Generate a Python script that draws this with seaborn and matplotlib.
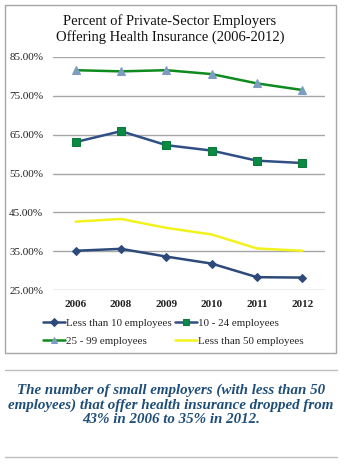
import matplotlib
matplotlib.use("Agg")
import matplotlib.pyplot as plt
import seaborn as sns
import pandas as pd
from matplotlib.lines import Line2D
from matplotlib.patches import Rectangle

years = ["2006", "2008", "2009", "2010", "2011", "2012"]
lt10 = [35.1, 35.6, 33.6, 31.8, 28.3, 28.2]
s10_24 = [63.1, 65.9, 62.3, 60.9, 58.3, 57.7]
s25_99 = [81.6, 81.3, 81.6, 80.6, 78.2, 76.5]
lt50 = [42.6, 43.3, 41.0, 39.3, 35.7, 35.1]
series_names = ["Less than 10 employees", "10 - 24 employees",
                "25 - 99 employees", "Less than 50 employees"]
yticks = [25, 35, 45, 55, 65, 75, 85]

title = "Percent of Private-Sector Employers\nOffering Health Insurance (2006-2012)"
caption = ("The number of small employers (with less than 50\n"
           "employees) that offer health insurance dropped from\n"
           "43% in 2006 to 35% in 2012.")

rows = []
for name, vals in zip(series_names, [lt10, s10_24, s25_99, lt50]):
    for i, (y, v) in enumerate(zip(years, vals)):
        rows.append({"pos": i, "year": y, "value": v, "series": name})
df = pd.DataFrame(rows)

sns.set_theme(style="white")
plt.rcParams["font.family"] = ["Liberation Serif", "DejaVu Serif"]

W, H = 350, 471
fig = plt.figure(figsize=(3.5, 4.71), dpi=100)
fig.patch.set_facecolor("white")

def fx(px):
    return px / W

def fy(py):
    return 1 - py / H

# outer chart frame
fig.patches.append(Rectangle((fx(5), fy(353)), fx(331), (348) / H,
                             transform=fig.transFigure, fill=False,
                             edgecolor="#A6A6A6", linewidth=1.0))
# separator lines
for yy in (370, 457):
    fig.add_artist(Line2D([fx(5), fx(337)], [fy(yy), fy(yy)],
                          transform=fig.transFigure, color="#BFBFBF", linewidth=1.0))

ax = fig.add_axes([fx(53), fy(290), fx(325 - 53), (290 - 57) / H])

styles = {
    "Less than 10 employees": dict(color="#2D4A7A", marker="D", mfc="#2D4A7A", mec="#2D4A7A", ms=4.5),
    "10 - 24 employees": dict(color="#2F4F85", marker="s", mfc="#0B8A43", mec="#0B7A3B", ms=5.5),
    "25 - 99 employees": dict(color="#0E8A1E", marker="^", mfc="#7C9CC2", mec="#7C9CC2", ms=5.5),
    "Less than 50 employees": dict(color="#F2F21C", marker=None, mfc=None, mec=None, ms=0),
}

for name in series_names:
    st = styles[name]
    sub = df[df["series"] == name]
    kw = dict(color=st["color"], linewidth=1.8)
    if st["marker"]:
        kw.update(marker=st["marker"], markerfacecolor=st["mfc"],
                  markeredgecolor=st["mec"], markersize=st["ms"])
    sns.lineplot(data=sub, x="pos", y="value", ax=ax, label=name, **kw)

ax.set_xlim(-0.5, 5.5)
ax.set_ylim(25, 85)
ax.set_yticks(yticks)
ax.set_yticklabels([f"{v:.2f}%" for v in yticks], fontsize=8)
ax.set_xticks(range(len(years)))
ax.set_xticklabels(years, fontsize=8, fontweight="bold")
ax.set_xlabel("")
ax.set_ylabel("")
for s in ax.spines.values():
    s.set_visible(False)
ax.yaxis.grid(True, color="#A6A6A6", linewidth=1.0)
ax.set_axisbelow(True)
ax.tick_params(axis="both", length=0, pad=7, colors="#222222")
ax.tick_params(axis="x", pad=7)

handles, labels = ax.get_legend_handles_labels()
ax.get_legend().remove()
order = [0, 2, 1, 3]
fig.legend([handles[i] for i in order], [labels[i] for i in order],
           ncol=2, loc="center", bbox_to_anchor=(fx(173), fy(332)),
           frameon=False, fontsize=7.9, handlelength=2.0, handletextpad=0.1,
           columnspacing=0.3, labelspacing=0.72, borderaxespad=0,
           markerscale=0.8)

fig.text(fx(170), fy(29), title, ha="center", va="center", fontsize=10.5,
         color="#111111", linespacing=1.2)

fig.text(fx(171), fy(405), caption, ha="center", va="center", fontsize=10.8,
         fontweight="bold", fontstyle="italic", color="#1F4E79", linespacing=1.12)

fig.savefig("out.png", dpi=100, facecolor="white")
